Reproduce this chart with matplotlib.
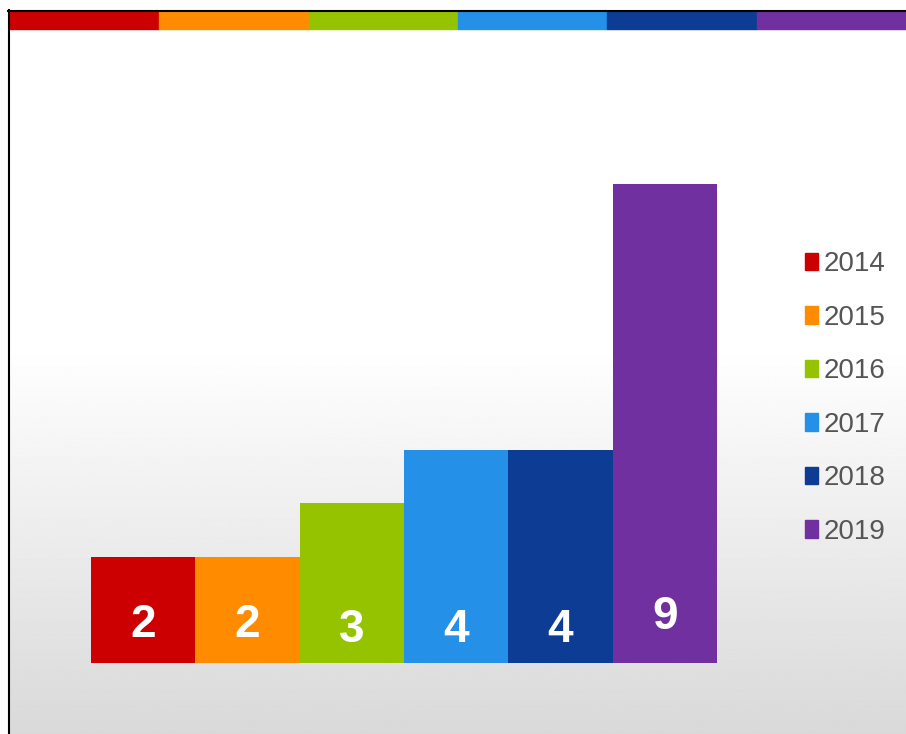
import numpy as np
import matplotlib
matplotlib.use("Agg")
import matplotlib.pyplot as plt
from matplotlib.patches import Rectangle

# =========================================================
# Data
# =========================================================
years = ["2014", "2015", "2016", "2017", "2018", "2019"]
counts = [2, 2, 3, 4, 4, 9]
colors = ["#CC0000", "#FF8C00", "#96C300", "#2490E8", "#0C3C94", "#7030A0"]

W, H = 906, 734
fig = plt.figure(figsize=(W / 100, H / 100), dpi=100)

# =========================================================
# Background (white -> light grey gradient) + frame
# =========================================================
bg = fig.add_axes([0, 0, 1, 1])
bg.set_xlim(0, W)
bg.set_ylim(H, 0)
bg.axis("off")
rows = np.arange(H)
shade = np.where(rows < 340, 1.0, 1.0 - (rows - 340) / (H - 340) * 0.15)
grad = np.repeat(shade[:, None], 2, axis=1)
bg.imshow(grad, cmap="gray", vmin=0, vmax=1, extent=[8, W, H, 10],
          aspect="auto", zorder=0)
bg.plot([8.5, 8.5], [10, H], color="black", lw=1.5, zorder=3)
bg.plot([8, W], [10.5, 10.5], color="black", lw=1.5, zorder=3)

# coloured strip on top
seg = (W - 10) / len(colors)
for i, c in enumerate(colors):
    bg.add_patch(Rectangle((10 + i * seg, 11), seg, 18, color=c, zorder=2))

# =========================================================
# Bars
# =========================================================
ax = fig.add_axes([91 / W, (H - 663) / H, 626 / W, 530 / H])
ax.patch.set_alpha(0)
x = np.arange(len(years))
bars = ax.bar(x, counts, width=1.0, color=colors, label=years)
ax.set_xlim(-0.5, len(years) - 0.5)
ax.set_ylim(0, 9.96)
ax.axis("off")

label_font = ["Liberation Sans Narrow", "Liberation Sans", "DejaVu Sans"]
label_y = [0.72, 0.72, 0.62, 0.62, 0.62, 0.87]
for xi, v, ly in zip(x, counts, label_y):
    ax.text(xi, ly, str(v), ha="center", va="center", color="white",
            fontsize=33, fontweight="bold", family=label_font)

# =========================================================
# Legend
# =========================================================
handles = [Rectangle((0, 0), 1, 1, color=c) for c in colors]
leg = fig.legend(handles, years, loc="center left",
                 bbox_to_anchor=(805 / W, 1 - 398 / H),
                 frameon=False, borderpad=0, borderaxespad=0,
                 handlelength=0.47, handleheight=0.61,
                 handletextpad=0.2, labelspacing=0.99,
                 prop={"family": "Liberation Sans", "size": 20})
for t in leg.get_texts():
    t.set_color("#555555")

fig.savefig("out.png", dpi=100)
